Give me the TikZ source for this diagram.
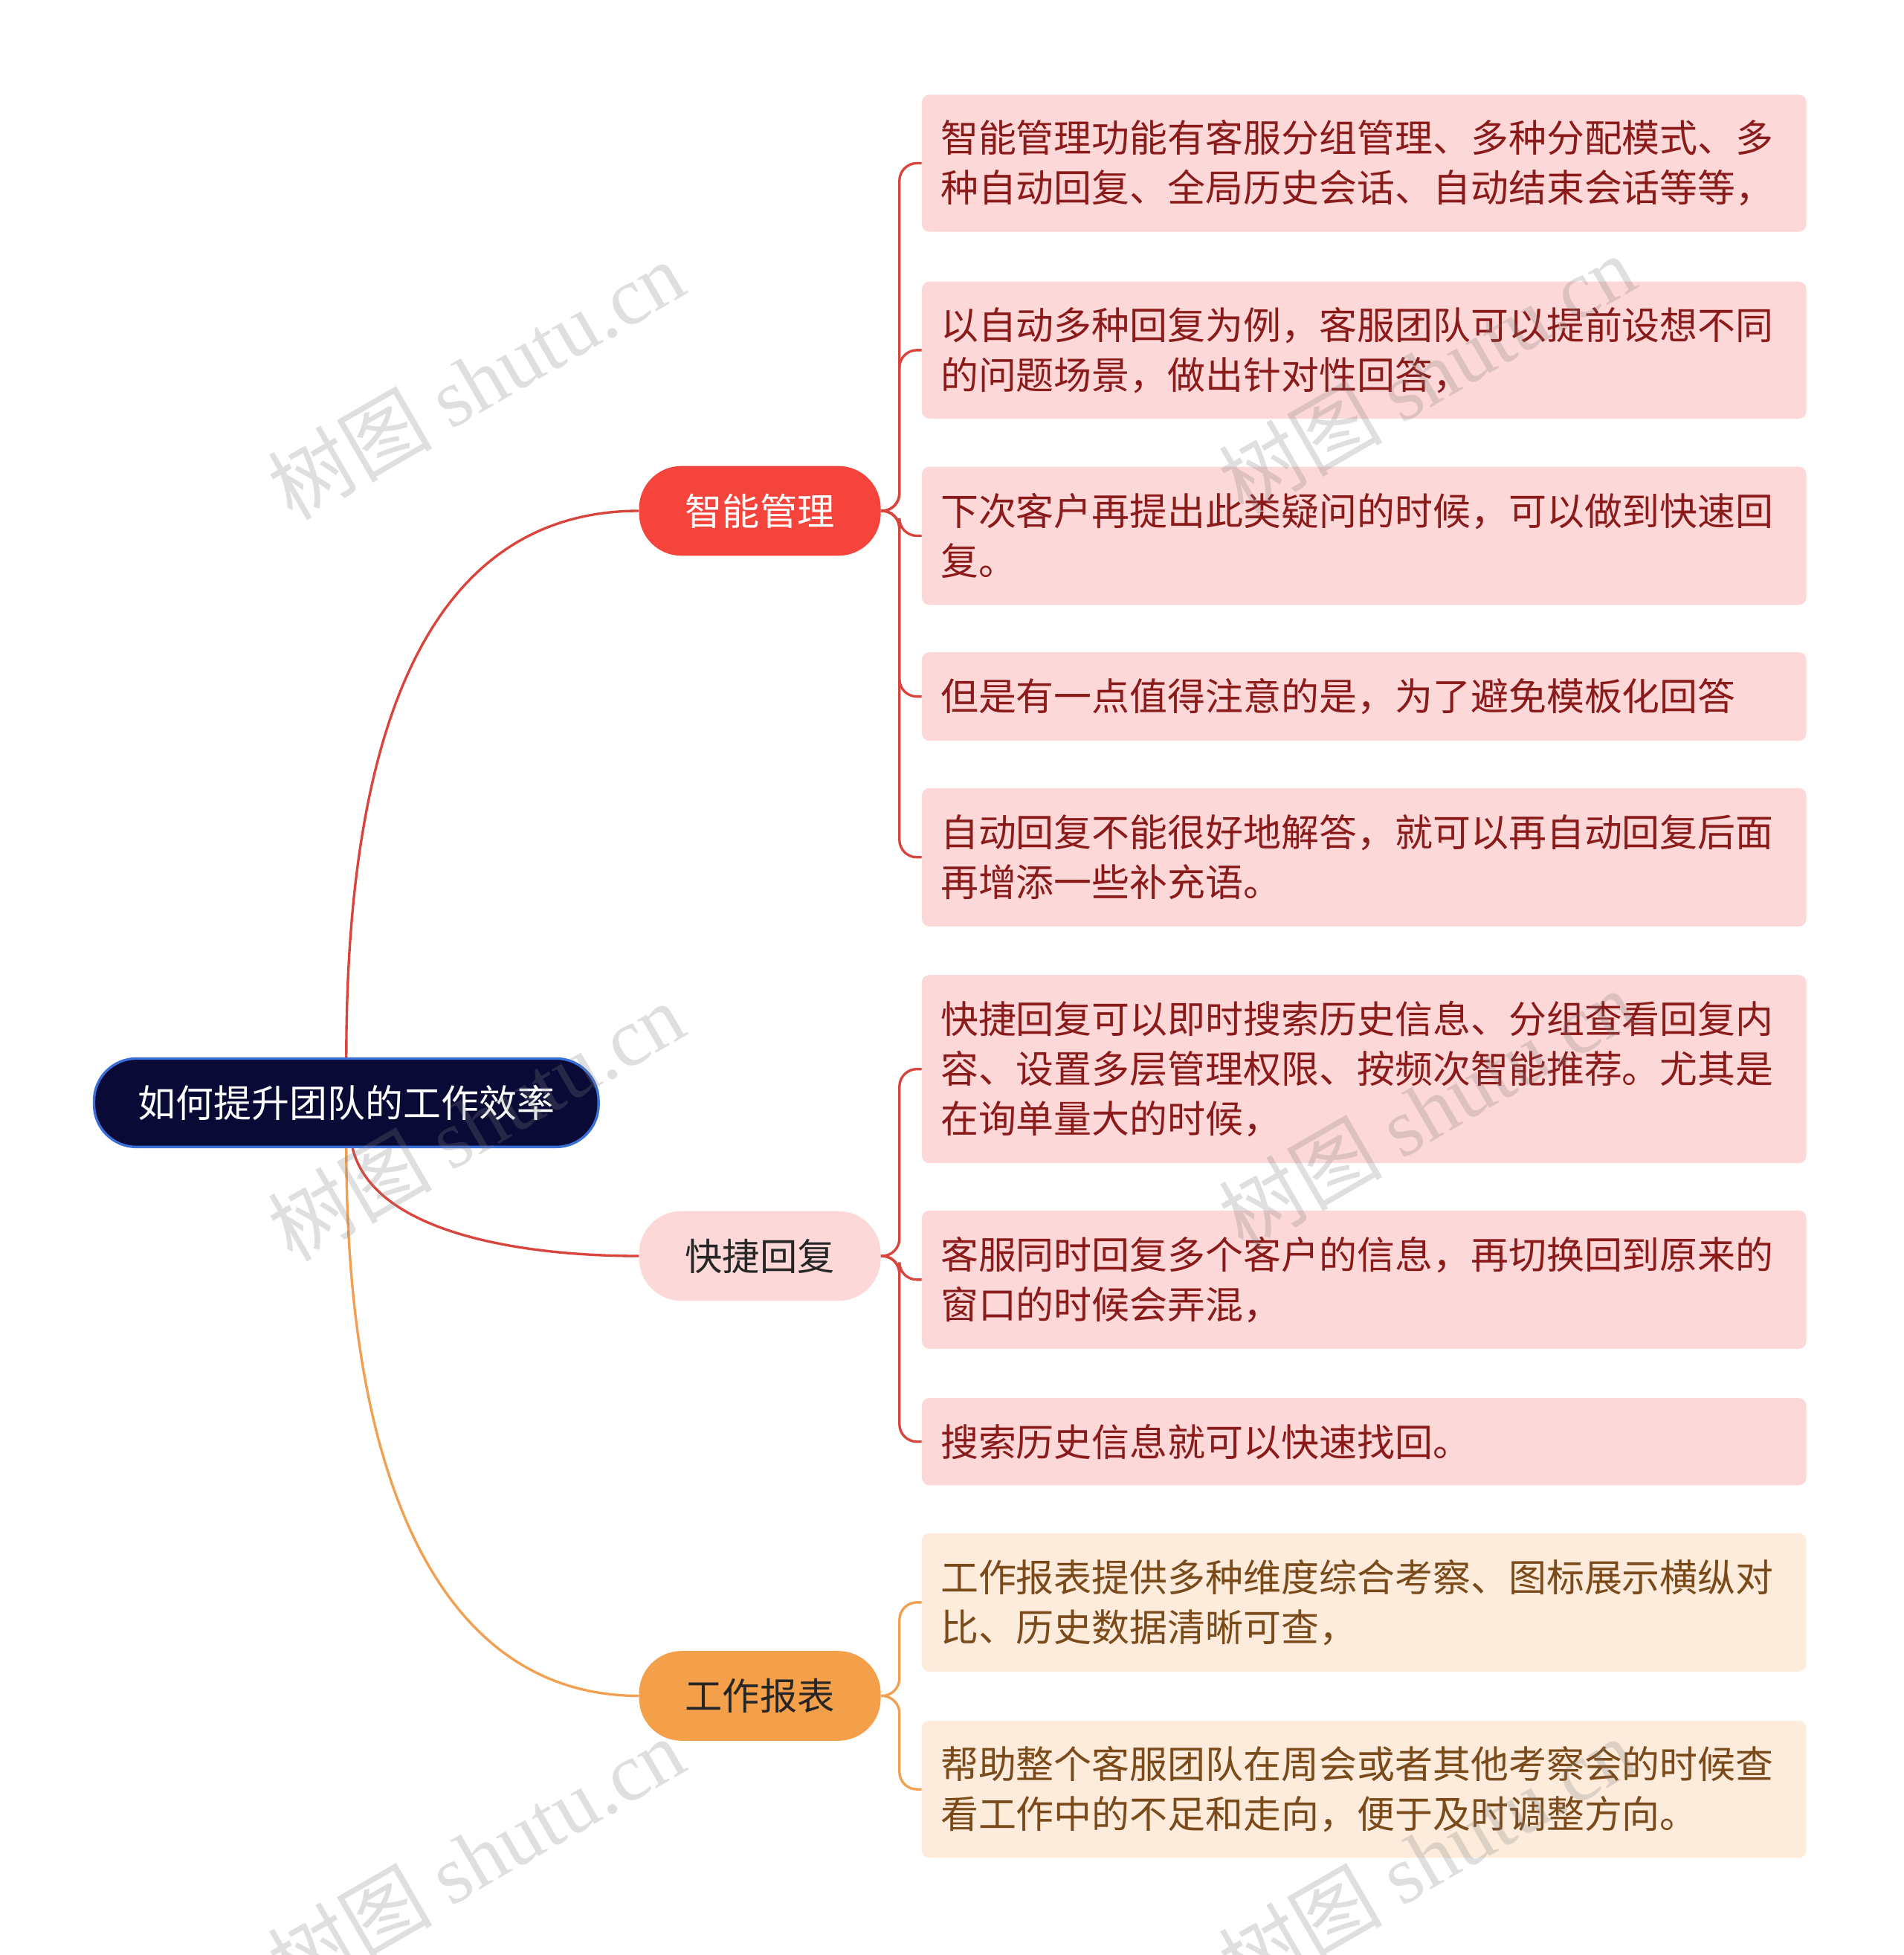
\documentclass[tikz,border=0pt]{standalone}
\usepackage{fontspec}
\setmainfont{Noto Sans CJK SC}
\newfontfamily\wmcjk{Noto Sans CJK SC}
\newfontfamily\wmlat{Liberation Serif}
\usetikzlibrary{positioning}
\definecolor{rootfill}{HTML}{0A0A36}
\definecolor{rootline}{HTML}{3A6FD8}
\definecolor{redb}{HTML}{F5443C}
\definecolor{pinkb}{HTML}{FDD8D8}
\definecolor{orangeb}{HTML}{F4A04A}
\definecolor{peach}{HTML}{FDEBDC}
\definecolor{redline}{HTML}{D9443C}
\definecolor{orangeline}{HTML}{F0A050}
\definecolor{redtext}{HTML}{8B1A1A}
\definecolor{browntext}{HTML}{7A4A1A}
\tikzset{
  branch/.style={rounded corners=34pt,minimum width=194pt,minimum height=72pt,inner sep=0pt,font=\fontsize{30}{36}\selectfont},
  leaf/.style={fill=pinkb,rounded corners=6pt,text width=680pt,inner xsep=15pt,inner ysep=0pt,align=left,text=redtext,font=\fontsize{30.4}{40}\selectfont},
  leafo/.style={leaf,fill=peach,text=browntext},
  conn/.style={line width=2pt,rounded corners=14pt},
  wm/.style={text=gray,opacity=0.25,rotate=30,font=\fontsize{66}{68}\selectfont}
}
\begin{document}
\begin{tikzpicture}[x=1pt,y=-1pt]
\useasboundingbox (0,0) rectangle (1528,1569);
\node[fill=rootfill,draw=rootline,line width=2pt,rounded corners=34pt,minimum width=405pt,minimum height=71pt,text=white,font=\fontsize{30.4}{34}\selectfont] (root) at (278,885) {如何提升团队的工作效率};
\node[branch,fill=redb,text=white] (b1) at (610,410) {智能管理};
\node[branch,fill=pinkb,text=black!85] (b2) at (610,1008) {快捷回复};
\node[branch,fill=orangeb,text=black!85] (b3) at (610,1361) {工作报表};
\coordinate (s1) at (722,410);
\coordinate (s2) at (722,1008);
\coordinate (s3) at (722,1361);
\node[leaf,minimum height=110pt] (l1) at (1095,131) {智能管理功能有客服分组管理、多种分配模式、多\\种自动回复、全局历史会话、自动结束会话等等，};
\node[leaf,minimum height=110pt] (l2) at (1095,281) {以自动多种回复为例，客服团队可以提前设想不同\\的问题场景，做出针对性回答，};
\node[leaf,minimum height=111pt] (l3) at (1095,430) {下次客户再提出此类疑问的时候，可以做到快速回\\复。};
\node[leaf,minimum height=71pt] (l4) at (1095,559) {但是有一点值得注意的是，为了避免模板化回答};
\node[leaf,minimum height=111pt] (l5) at (1095,688) {自动回复不能很好地解答，就可以再自动回复后面\\再增添一些补充语。};
\node[leaf,minimum height=151pt] (l6) at (1095,858) {快捷回复可以即时搜索历史信息、分组查看回复内\\容、设置多层管理权限、按频次智能推荐。尤其是\\在询单量大的时候，};
\node[leaf,minimum height=111pt] (l7) at (1095,1027) {客服同时回复多个客户的信息，再切换回到原来的\\窗口的时候会弄混，};
\node[leaf,minimum height=70pt] (l8) at (1095,1157) {搜索历史信息就可以快速找回。};
\node[leafo,minimum height=111pt] (l9) at (1095,1286) {工作报表提供多种维度综合考察、图标展示横纵对\\比、历史数据清晰可查，};
\node[leafo,minimum height=110pt] (l10) at (1095,1436) {帮助整个客服团队在周会或者其他考察会的时候查\\看工作中的不足和走向，便于及时调整方向。};
\draw[redline,line width=2pt] (root.north) .. controls (278,520) and (380,410) .. (b1.west);
\draw[redline,line width=2pt] (root.south) ++(5,0) .. controls (300,990) and (420,1008) .. (b2.west);
\draw[orangeline,line width=2pt] (root.south) .. controls (278,1200) and (360,1361) .. (b3.west);
\foreach \l in {l1,l2,l3,l4,l5}
  \draw[conn,redline] (b1.east) -- (s1) -- (s1|-\l.west) -- (\l.west);
\foreach \l in {l6,l7,l8}
  \draw[conn,redline] (b2.east) -- (s2) -- (s2|-\l.west) -- (\l.west);
\foreach \l in {l9,l10}
  \draw[conn,orangeline] (b3.east) -- (s3) -- (s3|-\l.west) -- (\l.west);
\foreach \p/\n in {{(382,305)}/w1,{(382,900)}/w2,{(1145,300)}/w3,{(1145,890)}/w4,{(382,1490)}/w5,{(1145,1490)}/w6}
  \node[wm] (\n) at \p {\wmcjk 树图 \wmlat shutu.cn};
\end{tikzpicture}
\end{document}
